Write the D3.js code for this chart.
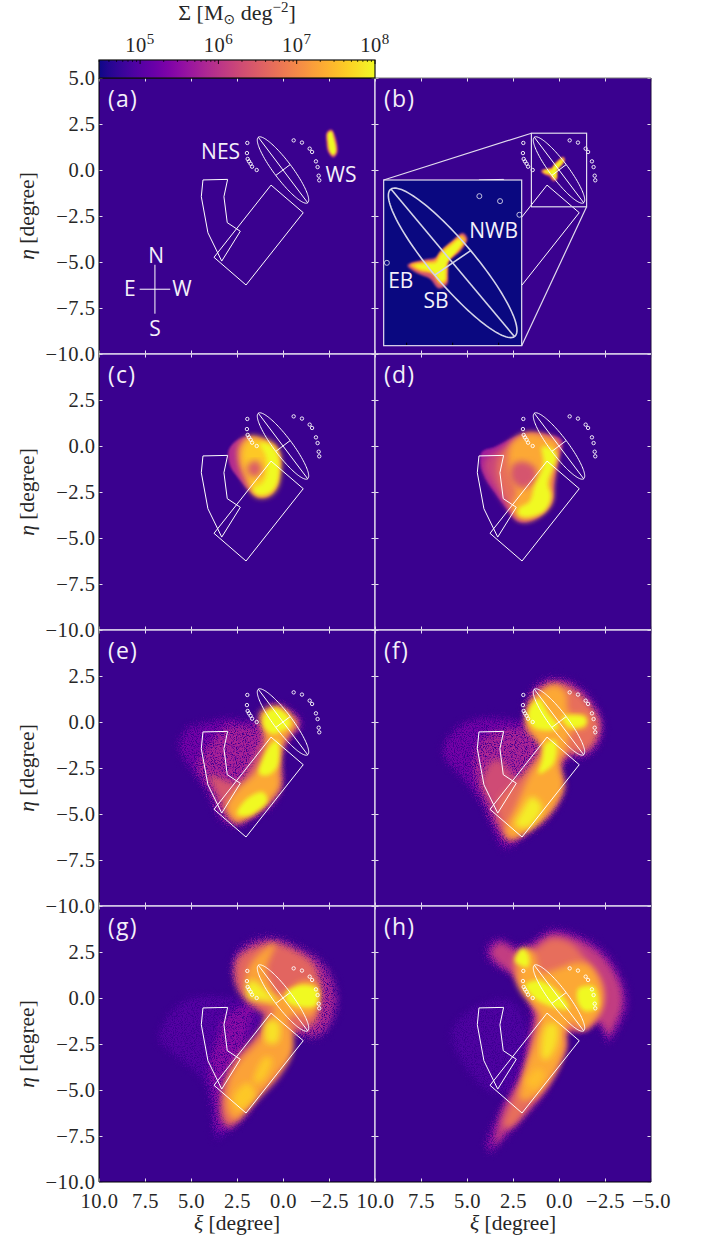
<!DOCTYPE html>
<html>
<head>
<meta charset="utf-8">
<script src="https://cdn.jsdelivr.net/npm/d3@7"></script>
<style>
html, body { margin: 0; padding: 0; background: #fff; }
svg { display: block; }
</style>
</head>
<body>
<svg id="chart" width="703" height="1243"></svg>
<script>
// tick values, degrees
const xiTicks = [10, 7.5, 5, 2.5, 0, -2.5, -5]
const etaTicks = [5, 2.5, 0, -2.5, -5, -7.5, -10]
const panelNames = ['(a)', '(b)', '(c)', '(d)', '(e)', '(f)', '(g)', '(h)']
const barTicks = [1e5, 1e6, 1e7, 1e8]

// observed structures [xi, eta]
const streamField = [[0.65, -0.82], [-1.10, -2.32], [2.01, -6.25], [3.75, -4.745]]
const shelfField = [[4.35, -0.54], [3.01, -0.51], [3.21, -1.45], [3.03, -2.86], [2.32, -3.33], [3.33, -4.95], [4.08, -3.41], [4.44, -1.45]]
const satellites = [
    [-0.58, 1.61], [-1.03, 1.49], [-1.45, 1.16], [-1.58, 0.98], [-1.79, 0.47], [-1.88, 0.16], [-1.94, -0.31], [-1.97, -0.56],
    [1.94, 1.47], [1.96, 0.92], [1.92, 0.60], [1.85, 0.47], [1.76, 0.34], [1.68, 0.18], [1.43, 0.0]
]
const diskAxes = [2.23, 0.49] // semi axes, degrees
const diskAngle = 37 // position angle, degrees
const zoomRange = [[1.5, -1.5], [2, -2]]

// surface density layers [log10 sigma, outline in xi, eta]
const densityA = [
    [6.4, [[-2.38, 2.04], [-2.62, 2.2], [-2.82, 1.88], [-2.96, 0.96], [-2.74, 0.68], [-2.46, 0.96], [-2.36, 1.54]]],
    [8.2, [[-2.44, 2.0], [-2.64, 2.1], [-2.74, 1.82], [-2.88, 1.0], [-2.73, 0.8], [-2.54, 1.0], [-2.44, 1.54]]]
]
const densityB = [
    [6.4, [[0.98, -0.06], [0.6, 0.08], [0.38, 0.12], [0.25, 0.3], [0.0, 0.54], [-0.22, 0.72], [-0.32, 0.58], [-0.18, 0.3], [0.08, 0.02], [0.1, -0.25], [0.12, -0.52], [0.3, -0.62], [0.5, -0.38], [0.76, -0.26]]],
    [7.5, [[0.92, -0.05], [0.594, 0.03], [0.377, 0.07], [0.268, 0.26], [0.015, 0.5], [-0.2, 0.66], [-0.28, 0.55], [-0.145, 0.31], [0.1, 0.05], [0.123, -0.214], [0.145, -0.456], [0.27, -0.52], [0.45, -0.27], [0.74, -0.19]]],
    [8.2, [[0.82, -0.06], [0.56, -0.02], [0.36, 0.0], [0.25, 0.2], [0.02, 0.42], [-0.16, 0.56], [-0.2, 0.48], [-0.08, 0.28], [0.13, 0.0], [0.16, -0.21], [0.18, -0.42], [0.27, -0.44], [0.43, -0.22], [0.7, -0.14]]]
]
const densityC = [
    [5.9, [[2.95, -0.22], [2.4, 0.38], [1.81, 0.52], [1.09, 0.38], [0.4, 0.0], [0.12, -0.58], [0.2, -1.49], [0.38, -2.25], [0.78, -2.72], [1.36, -2.78], [1.85, -2.42], [2.4, -1.78], [2.86, -1.12]]],
    [7.0, [[2.4, 0.05], [1.81, 0.5], [1.09, 0.36], [0.45, -0.02], [0.2, -0.76], [0.3, -2.1], [0.78, -2.68], [1.36, -2.74], [1.81, -2.32], [2.15, -1.76], [2.45, -0.76]]],
    [7.6, [[2.2, -0.1], [1.8, 0.45], [1.05, 0.34], [0.4, -0.04], [0.16, -0.7], [0.26, -1.6], [0.4, -2.25], [0.8, -2.65], [1.35, -2.7], [1.75, -2.3], [1.9, -1.7], [2.25, -0.8]]],
    [6.5, [[1.85, -0.95], [1.4, -0.8], [1.15, -1.35], [1.5, -1.7], [1.95, -1.4]]],
    [8.3, [[1.25, 0.15], [0.6, 0.0], [0.28, -0.5], [0.24, -1.7], [0.44, -2.25], [0.82, -2.6], [1.35, -2.65], [1.65, -2.35], [1.1, -2.0], [0.85, -1.2], [0.95, -0.5]]]
]
const densityD = [
    [5.7, [[4.18, -0.31], [3.46, -0.04], [2.55, 0.42], [1.65, 0.69], [0.56, 0.6], [-0.16, 0.33], [-0.07, -0.4], [0.2, -1.49], [0.29, -2.03], [0.38, -3.03], [0.74, -3.57], [1.47, -4.02], [2.19, -4.11], [2.92, -3.3], [3.46, -2.57], [4.0, -1.76], [4.28, -0.94]]],
    [6.2, [[3.9, -0.6], [3.3, -0.2], [2.5, 0.3], [1.65, 0.6], [0.7, 0.5], [0.05, 0.2], [0.1, -0.4], [0.3, -1.5], [0.4, -2.1], [0.45, -3.0], [0.85, -3.5], [1.5, -3.95], [2.15, -4.0], [2.85, -3.25], [3.4, -2.45], [3.9, -1.7], [4.1, -1.0]]],
    [6.7, [[3.2, -0.5], [2.5, 0.2], [1.7, 0.66], [0.7, 0.5], [0.05, 0.2], [0.1, -0.4], [0.3, -1.5], [0.38, -2.1], [0.45, -3.0], [0.82, -3.5], [1.5, -3.95], [2.1, -4.0], [2.75, -3.2], [3.1, -2.5], [3.4, -1.2]]],
    [7.3, [[2.6, 0.1], [1.7, 0.66], [0.7, 0.5], [0.05, 0.2], [0.1, -0.4], [0.3, -1.5], [0.38, -2.1], [0.45, -3.0], [0.82, -3.5], [1.5, -3.95], [2.1, -3.98], [2.6, -3.3], [2.3, -2.6], [2.7, -1.4]]],
    [6.4, [[2.5, -1.0], [1.9, -0.85], [1.3, -1.2], [1.3, -1.9], [2.0, -2.3], [2.6, -1.8]]],
    [8.3, [[0.92, -0.04], [0.29, -0.2], [0.11, -0.58], [0.6, -2.03], [0.42, -2.75], [0.78, -3.55], [1.65, -3.87], [2.19, -3.76], [2.19, -3.4], [1.6, -3.0], [1.35, -2.2], [0.85, -1.0]]]
]
const densityE = [
    [5.3, [[5.62, -1.36], [5.16, -0.36], [4.35, -0.09], [2.9, 0.18], [1.45, 0.09], [1.09, 0.63], [0.36, 1.0], [-0.72, 0.45], [-1.09, -0.09], [-0.36, -1.0], [0.04, -1.72], [0.09, -2.81], [0.04, -3.53], [0.72, -4.62], [1.81, -5.34], [2.45, -5.67], [3.26, -5.34], [4.17, -3.53], [4.89, -2.63]]],
    [5.8, [[4.6, -2.4], [3.8, -1.0], [2.9, -0.2], [1.5, -0.2], [0.9, 0.4], [0.3, 0.85], [-0.6, 0.35], [-0.9, -0.1], [-0.3, -0.9], [0.1, -1.7], [0.1, -2.8], [0.1, -3.5], [0.8, -4.55], [1.85, -5.25], [2.45, -5.55], [3.2, -5.2], [4.0, -3.6]]],
    [6.4, [[4.0, -2.9], [3.0, -3.2], [2.4, -3.3], [1.5, -1.8], [1.0, -0.6], [0.9, 0.3], [0.3, 0.75], [-0.5, 0.3], [-0.8, -0.1], [-0.25, -0.9], [0.15, -1.7], [0.15, -3.5], [0.85, -4.5], [1.85, -5.15], [2.5, -5.45], [3.1, -4.9], [3.6, -3.9]]],
    [7.3, [[3.08, -4.62], [2.54, -3.71], [1.45, -2.63], [0.9, -1.18], [1.27, 0.45], [0.36, 0.9], [-0.54, 0.27], [-0.72, -0.18], [-0.18, -0.81], [0.09, -1.54], [0.18, -2.81], [0.18, -3.53], [0.9, -4.44], [2.0, -5.25], [2.54, -5.43]]],
    [8.2, [[1.0, 0.4], [0.4, 0.75], [-0.3, 0.3], [-0.4, -0.2], [0.1, -0.5], [0.6, -0.65], [1.05, -0.2]]],
    [8.1, [[0.65, -1.2], [0.3, -1.0], [0.3, -2.4], [0.85, -2.9], [1.3, -2.8], [1.1, -2.0]]],
    [8.0, [[1.1, -3.8], [0.85, -4.3], [1.9, -5.1], [2.5, -5.0], [2.0, -4.2]]]
]
const densityF = [
    [5.3, [[6.27, -1.72], [5.82, -0.63], [4.73, 0.09], [2.92, 0.18], [1.83, 0.09], [1.74, 1.0], [1.11, 2.08], [0.29, 2.39], [-0.89, 2.08], [-1.97, 1.0], [-2.43, -0.09], [-2.16, -1.27], [-1.43, -1.9], [-0.53, -2.0], [-0.16, -2.45], [-0.31, -3.53], [0.38, -4.98], [1.65, -6.07], [2.92, -6.88], [3.28, -6.43], [4.0, -4.62], [5.09, -3.17]]],
    [5.85, [[4.6, -2.6], [4.2, -1.0], [3.0, -0.4], [1.8, -0.3], [1.75, 0.9], [1.1, 1.95], [0.3, 2.25], [-0.85, 1.95], [-1.9, 0.9], [-2.3, -0.1], [-2.05, -1.2], [-1.4, -1.75], [-0.55, -1.85], [-0.1, -2.45], [-0.25, -3.5], [0.4, -4.9], [1.65, -5.95], [2.8, -6.6], [3.2, -6.0], [3.9, -4.6]]],
    [6.3, [[4.2, -3.2], [3.4, -2.0], [2.6, -2.8], [2.0, -3.6], [2.8, -6.2], [3.2, -5.8], [3.7, -4.5]]],
    [6.7, [[1.7, -0.4], [1.75, 0.6], [1.1, 1.7], [0.3, 2.1], [-0.7, 1.85], [-1.7, 0.9], [-2.2, -0.1], [-1.9, -1.15], [-1.3, -1.65], [-0.5, -1.75], [-0.05, -2.4], [-0.2, -3.5], [0.45, -4.8], [1.65, -5.85], [2.7, -6.4], [3.0, -5.8], [3.3, -4.3], [2.3, -3.2], [1.3, -2.0], [0.9, -1.2]]],
    [7.3, [[1.75, -0.2], [1.55, 1.0], [0.3, 2.0], [-0.35, 1.6], [-0.55, 0.5], [-1.45, 0.35], [-1.45, -0.3], [-0.7, -0.5], [-0.35, -1.55], [0.0, -2.1], [-0.05, -2.6], [-0.25, -3.5], [0.45, -4.85], [1.65, -5.9], [2.65, -6.3], [2.9, -5.9], [2.35, -4.6], [1.65, -3.0], [0.9, -1.55], [1.45, -0.65]]],
    [8.2, [[1.65, 0.63], [1.11, 1.27], [0.56, 0.45], [0.02, -0.27], [0.38, -0.45], [1.29, -0.36], [1.65, 0.09]]],
    [8.1, [[-0.16, 0.27], [-1.43, 0.27], [-1.43, -0.18], [-0.53, -0.27]]],
    [8.0, [[0.74, -1.18], [0.2, -1.0], [0.29, -2.26], [1.11, -2.81], [0.92, -2.08]]],
    [7.9, [[1.47, -4.08], [0.92, -4.62], [1.65, -5.71], [2.37, -5.62], [2.01, -4.8]]]
]
const densityG = [
    [5.0, [[6.7, -2.21], [6.16, -0.94], [5.07, -0.04], [3.26, 0.05], [1.99, -0.04], [2.54, 1.41], [2.63, 2.32], [1.81, 3.04], [0.54, 3.32], [-0.72, 2.86], [-2.17, 1.96], [-2.99, 0.33], [-2.81, -1.12], [-1.99, -2.12], [-0.54, -2.03], [-0.36, -2.93], [0.18, -4.2], [1.63, -5.83], [3.08, -7.37], [3.62, -7.64], [3.8, -5.83], [4.35, -4.38], [5.8, -3.12]]],
    [5.5, [[4.0, -4.2], [3.6, -2.4], [3.0, -0.9], [1.6, -0.4], [2.0, -2.6], [1.6, -5.75], [3.05, -7.2], [3.55, -7.2], [3.7, -5.8]]],
    [5.9, [[1.6, -0.4], [2.5, 0.8], [2.6, 2.0], [1.8, 2.95], [0.5, 3.2], [-0.7, 2.8], [-2.15, 1.9], [-2.9, 0.3], [-2.75, -1.05], [-1.95, -2.05], [-0.8, -1.95], [0.0, -0.8]]],
    [6.6, [[1.7, -0.4], [2.5, 0.6], [2.5, 2.1], [1.7, 2.7], [0.6, 3.0], [-0.6, 2.6], [-1.6, 1.9], [-2.0, 0.8], [-1.95, -0.5], [-1.7, -1.4], [-0.9, -1.7], [-0.5, -2.0], [-0.45, -2.9], [0.1, -4.1], [1.5, -5.6], [2.9, -7.0], [3.3, -6.6], [3.3, -4.9], [2.7, -3.5], [1.4, -1.9], [1.0, -1.0]]],
    [7.25, [[2.0, 0.9], [1.8, 1.8], [1.0, 2.65], [0.4, 2.95], [0.6, 2.4], [0.9, 1.6], [0.7, 0.8], [0.3, 0.1], [-0.4, 0.5], [-1.0, 0.9], [-1.8, 0.8], [-1.95, -0.3], [-1.5, -1.0], [-0.7, -0.9], [-0.3, -1.1], [-0.5, -2.0], [-0.45, -3.0], [0.2, -4.0], [1.5, -5.5], [2.6, -6.6], [3.0, -6.2], [3.0, -4.7], [2.4, -3.5], [1.3, -2.3], [0.8, -1.2], [0.5, -0.6], [1.4, -0.1]]],
    [8.2, [[-0.2, 0.3], [-1.0, 0.7], [-1.85, 0.5], [-1.8, -0.4], [-1.1, -0.5], [-0.2, -0.2]]],
    [7.9, [[1.9, 0.9], [1.5, 0.9], [0.8, 0.3], [0.3, -0.15], [1.0, -0.15], [1.9, 0.0]]],
    [7.8, [[0.9, -1.3], [0.25, -1.3], [0.3, -2.4], [0.9, -2.4]]],
    [7.6, [[1.0, -3.2], [0.6, -3.3], [1.1, -4.5], [1.6, -4.6]]],
    [7.6, [[1.9, -4.6], [1.5, -5.3], [2.4, -6.1], [2.7, -5.4]]]
]
const densityH = [
    [4.95, [[5.8, -2.0], [4.5, -0.5], [2.5, -0.2], [1.4, -3.0], [2.2, -5.0], [3.8, -5.0]]],
    [5.5, [[3.91, 2.68], [3.28, 3.22], [2.19, 2.77], [1.47, 3.04], [0.38, 3.71], [-1.07, 3.41], [-2.52, 2.5], [-3.6, 0.69], [-3.7, -0.58], [-3.24, -1.67], [-2.7, -2.39], [-2.16, -1.3], [-1.43, -1.76], [-0.31, -1.85], [-0.25, -2.75], [0.56, -4.75], [1.65, -6.2], [2.92, -7.64], [3.73, -8.37], [3.91, -8.0], [3.28, -6.38], [2.19, -4.38], [1.65, -2.21], [1.47, -0.76], [2.19, 1.05], [3.64, 1.96]]],
    [6.1, [[3.7, 2.5], [3.2, 3.0], [2.2, 2.55], [1.5, 2.8], [0.4, 3.45], [-1.0, 3.15], [-2.3, 2.3], [-3.3, 0.7], [-3.4, -0.5], [-3.0, -1.5], [-2.7, -2.0], [-2.2, -1.3], [-1.4, -1.7], [-0.4, -1.8], [-0.35, -2.75], [0.5, -4.6], [1.6, -6.0], [2.9, -7.3], [3.5, -8.0], [3.5, -7.8], [3.1, -6.2], [2.0, -4.2], [1.5, -2.2], [1.3, -0.8], [2.0, 0.9], [3.3, 1.9]]],
    [6.7, [[2.4, 1.1], [2.4, 2.3], [1.5, 2.5], [0.4, 3.2], [-0.6, 3.0], [-1.3, 2.3], [-2.3, 1.0], [-2.4, -0.2], [-1.9, -1.2], [-1.4, -1.7], [-0.4, -1.8], [-0.3, -2.7], [0.5, -4.5], [1.6, -5.9], [2.6, -7.0], [3.0, -7.0], [2.7, -5.9], [1.9, -4.1], [1.4, -2.2], [1.2, -0.8]]],
    [7.3, [[2.1, 0.5], [2.2, 1.9], [1.9, 2.7], [1.4, 2.5], [1.0, 1.4], [0.0, 1.6], [-0.8, 1.9], [-1.6, 1.8], [-2.3, 0.6], [-2.3, -0.6], [-1.7, -1.4], [-1.3, -1.7], [-0.7, -1.3], [-0.3, -1.8], [-0.3, -2.7], [0.4, -4.3], [1.4, -5.4], [2.1, -5.5], [1.9, -4.2], [1.35, -2.5], [1.0, -0.9], [1.5, -0.3]]],
    [8.0, [[2.4, 2.0], [2.0, 2.7], [1.65, 2.3], [1.7, 1.7]]],
    [8.2, [[1.83, 0.69], [1.1, 0.96], [-0.16, 0.14], [-0.53, -0.58], [0.02, -0.58], [1.29, -0.04]]],
    [8.1, [[-1.05, 0.5], [-1.9, 0.6], [-2.1, -0.5], [-1.4, -0.7], [-1.05, -0.3]]],
    [7.8, [[0.7, -1.5], [0.15, -1.4], [0.1, -2.4], [0.6, -3.3], [0.9, -3.3]]],
    [7.5, [[1.1, -3.8], [0.8, -4.2], [1.3, -4.9], [1.8, -4.6]]]
]
const densities = [densityA, densityB, densityC, densityD, densityE, densityF, densityG, densityH]

// text annotations [label, xi, eta]
const labelsA = [['NES', 3.39, 1.03], ['WS', -3.15, -0.22], ['N', 6.9, -4.62], ['S', 6.96, -8.59], ['E', 8.32, -6.41], ['W', 5.49, -6.41]]
const labelsB = [['NWB', 3.55, -3.3], ['EB', 8.6, -5.98], ['SB', 6.68, -7.07]]

const panelSize = 276
const lefts = [99, 375]
const tops = [78, 354, 630, 906]
const bgColor = '#3a018f'
const serif = '"Liberation Serif", serif'
const sans = '"Open Sans", sans-serif'
const tickFont = 20.5

const color = d3.scaleSequential(d3.interpolatePlasma).domain([4.475, 8])
const svg = d3.select('#chart')
const defs = svg.append('defs')

function blurFilter (id, dev) {
    defs.append('filter').attr('id', id)
        .attr('x', '-20%').attr('y', '-20%').attr('width', '140%').attr('height', '140%')
        .append('feGaussianBlur').attr('stdDeviation', dev)
}
blurFilter('wide', 3.4)
blurFilter('mid', 2.2)
blurFilter('crisp', 1.2)
blurFilter('tight', 0.8)

// speckled texture for the low density layers
const noisy = defs.append('filter').attr('id', 'noisy')
    .attr('x', '-20%').attr('y', '-20%').attr('width', '140%').attr('height', '140%')
    .attr('color-interpolation-filters', 'sRGB')
noisy.append('feGaussianBlur').attr('stdDeviation', 3).attr('result', 'b')
noisy.append('feTurbulence').attr('type', 'fractalNoise').attr('baseFrequency', 0.9).attr('numOctaves', 2).attr('seed', 4).attr('result', 'n')
noisy.append('feDisplacementMap').attr('in', 'b').attr('in2', 'n').attr('scale', 14)
    .attr('xChannelSelector', 'R').attr('yChannelSelector', 'G').attr('result', 'd')
noisy.append('feColorMatrix').attr('in', 'n').attr('type', 'matrix')
    .attr('values', '0 0 0 0 1  0 0 0 0 1  0 0 0 0 1  4 0 0 0 -1.2').attr('result', 'a')
noisy.append('feComposite').attr('in', 'd').attr('in2', 'a').attr('operator', 'in')

const shape = d3.line().curve(d3.curveCatmullRomClosed.alpha(0.5))

function drawDensity (g, layers, x, y, pick) {
    g.selectAll(null).data(layers).enter().append('path')
        .attr('d', d => shape(d[1].map(p => [x(p[0]), y(p[1])])))
        .attr('fill', d => color(d[0]))
        .attr('filter', (d, i) => 'url(#' + pick(d[0], i) + ')')
}

const pickTight = () => 'tight'
const pickInner = (level, i) => (i === 0 ? 'crisp' : (level >= 7.9 ? 'mid' : 'wide'))
const pickSpread = level => (level < 5.95 ? 'noisy' : (level < 7.95 ? 'wide' : 'mid'))

function drawStructures (g, x, y, strokeColor, strokeWidth, radius, withFields) {
    const line = d3.line().x(d => x(d[0])).y(d => y(d[1]))
    const rad = diskAngle * Math.PI / 180
    const sin = Math.sin(rad)
    const cos = Math.cos(rad)
    // disk position, rotated on the sky
    const toSky = (u, v) => [u * sin + v * cos, u * cos - v * sin]
    const outline = d3.range(0, 361, 3).map(a => {
        const t = a * Math.PI / 180
        return toSky(diskAxes[0] * Math.cos(t), diskAxes[1] * Math.sin(t))
    })
    const paths = [
        line(outline),
        line([toSky(-diskAxes[0], 0), toSky(diskAxes[0], 0)]),
        line([toSky(0, -diskAxes[1]), toSky(0, diskAxes[1])])
    ]
    if (withFields) {
        paths.push(line(streamField) + 'Z', line(shelfField) + 'Z')
    }
    g.selectAll(null).data(paths).enter().append('path')
        .attr('d', d => d)
        .attr('fill', 'none')
        .attr('stroke', strokeColor)
        .attr('stroke-width', strokeWidth)
    g.selectAll(null).data(satellites).enter().append('circle')
        .attr('cx', d => x(d[0]))
        .attr('cy', d => y(d[1]))
        .attr('r', radius)
        .attr('fill', 'none')
        .attr('stroke', strokeColor)
        .attr('stroke-width', 0.9)
}

function addLabels (g, list, x, y) {
    g.selectAll(null).data(list).enter().append('text')
        .attr('x', d => x(d[1]))
        .attr('y', d => y(d[2]))
        .attr('dy', '0.36em')
        .attr('text-anchor', 'middle')
        .attr('font-family', sans)
        .attr('font-size', 21)
        .attr('fill', '#f4f0fa')
        .text(d => d[0])
}

function styleAxis (g, tickColor) {
    g.select('.domain').remove()
    g.selectAll('line').attr('stroke', tickColor).attr('stroke-width', 1)
    g.selectAll('text')
        .attr('font-family', serif)
        .attr('font-size', tickFont)
        .attr('letter-spacing', 0.5)
        .attr('fill', '#262626')
}

const tickColor = '#e6dff0'
const innerLine = '#d9cfe8'

panelNames.forEach((name, i) => {
    const col = i % 2
    const row = Math.floor(i / 2)
    const left = lefts[col]
    const top = tops[row]
    const x = d3.scaleLinear().domain([10, -5]).range([left, left + panelSize])
    const y = d3.scaleLinear().domain([5, -10]).range([top, top + panelSize])
    const clipId = 'clip' + i

    defs.append('clipPath').attr('id', clipId).append('rect')
        .attr('x', left).attr('y', top).attr('width', panelSize).attr('height', panelSize)

    const panel = svg.append('g').attr('clip-path', 'url(#' + clipId + ')')
    panel.append('rect')
        .attr('x', left).attr('y', top).attr('width', panelSize).attr('height', panelSize)
        .attr('fill', bgColor)
    const pick = i < 2 ? pickTight : (i < 4 ? pickInner : pickSpread)
    drawDensity(panel, densities[i], x, y, pick)
    drawStructures(panel, x, y, '#fff', 1, 1.7, true)

    panel.append('text')
        .attr('x', left + 9).attr('y', top + 29)
        .attr('font-family', sans).attr('font-size', 23).attr('letter-spacing', 1.2).attr('fill', '#f4f0fa')
        .text(name)

    if (i === 0) {
        addLabels(panel, labelsA, x, y)
        const cross = [[[7.79, -6.48], [6.13, -6.48]], [[6.96, -5.15], [6.96, -7.81]]]
        panel.selectAll(null).data(cross).enter().append('line')
            .attr('x1', d => x(d[0][0])).attr('y1', d => y(d[0][1]))
            .attr('x2', d => x(d[1][0])).attr('y2', d => y(d[1][1]))
            .attr('stroke', '#fff').attr('stroke-width', 1)
    }

    if (i === 1) {
        // zoomed view of the central region
        const boxLeft = left + 8.67
        const boxTop = top + 102
        const boxW = 138
        const boxH = 165.67
        const ix = d3.scaleLinear().domain(zoomRange[0]).range([boxLeft, boxLeft + boxW])
        const iy = d3.scaleLinear().domain(zoomRange[1]).range([boxTop, boxTop + boxH])
        const clipIn = 'clipInset'
        defs.append('clipPath').attr('id', clipIn).append('rect')
            .attr('x', boxLeft).attr('y', boxTop).attr('width', boxW).attr('height', boxH)
        const frame = '#e2dcee'
        // connectors and the box around the zoomed region
        const x0 = x(zoomRange[0][0])
        const x1 = x(zoomRange[0][1])
        const y0 = y(zoomRange[1][0])
        const y1 = y(zoomRange[1][1])
        panel.append('rect').attr('x', x0).attr('y', y0).attr('width', x1 - x0).attr('height', y1 - y0)
            .attr('fill', 'none').attr('stroke', frame).attr('stroke-width', 1.2)
        const inset = panel.append('g').attr('clip-path', 'url(#' + clipIn + ')')
        inset.append('rect').attr('x', boxLeft).attr('y', boxTop).attr('width', boxW).attr('height', boxH)
            .attr('fill', '#0a0880')
        drawDensity(inset, densities[1], ix, iy, pickTight)
        drawStructures(inset, ix, iy, '#d4d4e8', 1.6, 2.5, false)
        inset.selectAll(null).data([1, 0, -1]).enter().append('line')
            .attr('x1', d => ix(d)).attr('x2', d => ix(d))
            .attr('y1', boxTop + boxH).attr('y2', boxTop + boxH - 3)
            .attr('stroke', '#000')
        panel.append('rect').attr('x', boxLeft).attr('y', boxTop).attr('width', boxW).attr('height', boxH)
            .attr('fill', 'none').attr('stroke', frame).attr('stroke-width', 1.2)
        const links = [[boxLeft, boxTop, x0, y0], [boxLeft + boxW, boxTop + boxH, x1, y1]]
        panel.selectAll(null).data(links).enter().append('line')
            .attr('x1', d => d[0]).attr('y1', d => d[1]).attr('x2', d => d[2]).attr('y2', d => d[3])
            .attr('stroke', frame).attr('stroke-width', 1.2)
        addLabels(panel, labelsB, x, y)
    }

    // ticks on all four sides, numbers only on the outer edges
    const fmt = d3.format('.1f')
    const yLabel = d => (col === 0 && (row === 0 || d !== 5) ? fmt(d) : '')
    const xLabel = d => (row === 3 && (col === 1 || d !== -5) ? fmt(d) : '')
    const axes = [
        svg.append('g').attr('transform', `translate(${left},0)`)
            .call(d3.axisLeft(y).tickValues(etaTicks).tickSize(-3.5).tickPadding(3.5).tickFormat(yLabel)),
        svg.append('g').attr('transform', `translate(${left + panelSize},0)`)
            .call(d3.axisRight(y).tickValues(etaTicks).tickSize(-3.5).tickFormat('')),
        svg.append('g').attr('transform', `translate(0,${top})`)
            .call(d3.axisTop(x).tickValues(xiTicks).tickSize(-3.5).tickFormat('')),
        svg.append('g').attr('transform', `translate(0,${top + panelSize})`)
            .call(d3.axisBottom(x).tickValues(xiTicks).tickSize(-3.5).tickPadding(11).tickFormat(xLabel))
    ]
    axes.forEach(a => styleAxis(a, tickColor))

    // frame lines, white where the panels touch
    const edges = [
        [left, top, left, top + panelSize, col === 0 ? '#000' : innerLine],
        [left + panelSize, top, left + panelSize, top + panelSize, col === 0 ? innerLine : '#1c0a3c'],
        [left, top, left + panelSize, top, row === 0 ? (col === 0 ? '#000' : '#777') : innerLine],
        [left, top + panelSize, left + panelSize, top + panelSize, row === 3 ? '#000' : innerLine]
    ]
    svg.selectAll(null).data(edges).enter().append('line')
        .attr('x1', d => d[0]).attr('y1', d => d[1]).attr('x2', d => d[2]).attr('y2', d => d[3])
        .attr('stroke', d => d[4])
        .attr('stroke-width', d => (d[4] === innerLine ? 1.4 : 1))
})

// colour bar
const barTop = 60
const barHeight = 18
const barX = d3.scaleLog().domain([Math.pow(10, 4.475), 1e8]).range([lefts[0], lefts[0] + panelSize])
const grad = defs.append('linearGradient').attr('id', 'barGrad')
d3.quantize(d3.interpolatePlasma, 32).forEach((c, i) => {
    grad.append('stop').attr('offset', (i / 31 * 100) + '%').attr('stop-color', c)
})
svg.append('rect')
    .attr('x', lefts[0]).attr('y', barTop).attr('width', panelSize).attr('height', barHeight)
    .attr('fill', 'url(#barGrad)')
    .attr('stroke', '#111').attr('stroke-width', 1.2)
const minorTicks = d3.range(5, 8).flatMap(e => d3.range(2, 10).map(m => m * Math.pow(10, e)))
    .concat(d3.range(3, 10).map(m => m * 1e4))
svg.selectAll(null).data(minorTicks).enter().append('line')
    .attr('x1', d => barX(d)).attr('x2', d => barX(d))
    .attr('y1', barTop).attr('y2', barTop + 2)
    .attr('stroke', '#000').attr('stroke-width', 0.7)
svg.selectAll(null).data(barTicks).enter().append('line')
    .attr('x1', d => barX(d)).attr('x2', d => barX(d))
    .attr('y1', barTop).attr('y2', barTop + 4)
    .attr('stroke', '#000').attr('stroke-width', 0.9)
const barLabels = svg.selectAll(null).data(barTicks).enter().append('text')
    .attr('x', d => barX(d))
    .attr('y', 52)
    .attr('text-anchor', 'middle')
    .attr('font-family', serif)
    .attr('font-size', tickFont)
    .attr('letter-spacing', 0.5)
    .attr('fill', '#262626')
barLabels.append('tspan').text('10')
barLabels.append('tspan').attr('dy', -8).attr('font-size', 15).text(d => Math.round(Math.log10(d)))

// axis titles
const title = svg.append('text')
    .attr('x', 237).attr('y', 20)
    .attr('text-anchor', 'middle')
    .attr('font-family', serif)
    .attr('font-size', 22)
    .attr('fill', '#262626')
title.append('tspan').text('Σ [M')
title.append('tspan').attr('dy', 4).attr('font-size', 14).attr('font-family', '"DejaVu Sans"').text('⊙')
title.append('tspan').attr('dy', -4).text(' deg')
title.append('tspan').attr('dy', -8).attr('font-size', 15).text('−2')
title.append('tspan').attr('dy', 8).text(']')

const axisTitle = (x, y, rotate, symbol) => {
    const t = svg.append('text')
        .attr('transform', `translate(${x},${y})` + (rotate ? ' rotate(-90)' : ''))
        .attr('text-anchor', 'middle')
        .attr('font-family', serif)
        .attr('font-size', 21.5)
        .attr('fill', '#262626')
    t.append('tspan').attr('font-style', 'italic').text(symbol)
    t.append('tspan').text(' [degree]')
}
tops.forEach(t => axisTitle(34, t + 138, true, 'η'))
lefts.forEach(l => axisTitle(l + 138, 1230, false, 'ξ'))
</script>
</body>
</html>
